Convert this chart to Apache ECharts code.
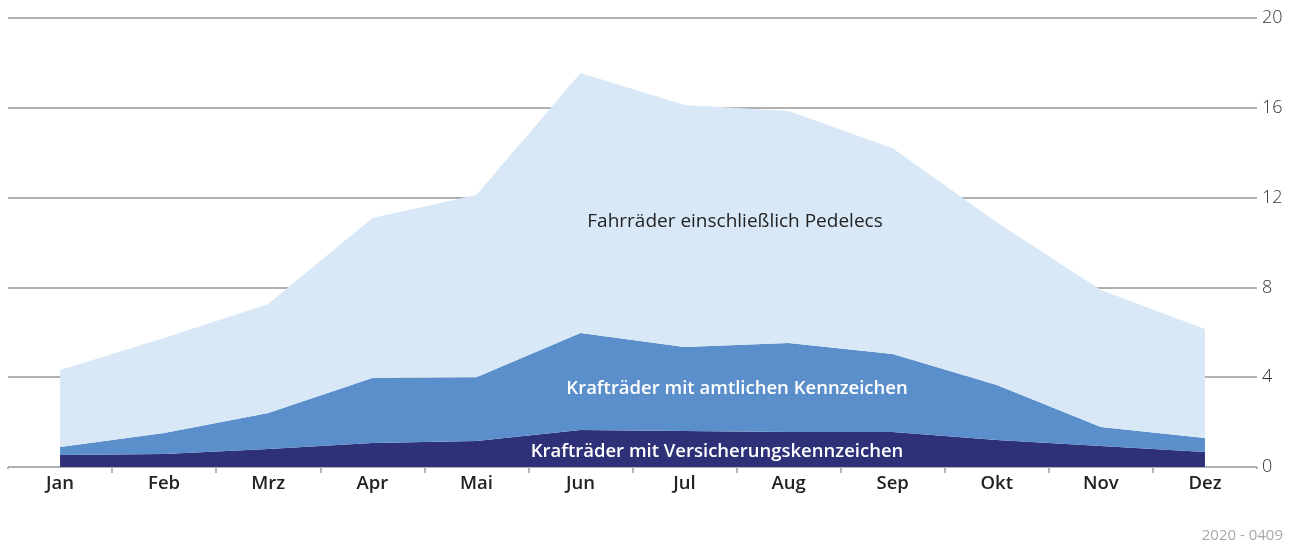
<!DOCTYPE html>
<html>
<head>
<meta charset="utf-8">
<script src="https://cdn.jsdelivr.net/npm/echarts@6/dist/echarts.min.js"></script>
<style>
  html, body { margin: 0; padding: 0; background: #fff; }
  #chart { width: 1296px; height: 545px; }
</style>
</head>
<body>
<div id="chart"></div>
<script>
// Monate
const months = ['Jan', 'Feb', 'Mrz', 'Apr', 'Mai', 'Jun', 'Jul', 'Aug', 'Sep', 'Okt', 'Nov', 'Dez']
// Werte je Schicht (gestapelt)
const versicherung = [0.53, 0.58, 0.8, 1.07, 1.16, 1.65, 1.6, 1.56, 1.56, 1.2, 0.94, 0.67]
const amtlich = [0.36, 0.93, 1.6, 2.89, 2.84, 4.32, 3.75, 3.96, 3.47, 2.45, 0.84, 0.62]
const fahrraeder = [3.43, 4.24, 4.86, 7.13, 8.12, 11.58, 10.77, 10.34, 9.17, 7.25, 6.1, 4.86]
const yTicks = [0, 4, 8, 12, 16, 20]

const font = '"Open Sans", "Noto Sans", sans-serif'
const chart = echarts.init(document.getElementById('chart'))

function layer(name, data, color) {
  return {
    name,
    type: 'line',
    stack: 'total',
    data,
    symbol: 'none',
    lineStyle: { width: 0 },
    areaStyle: { color, opacity: 1 },
    itemStyle: { color },
    silent: true
  }
}

function label(text, x, y, fill, weight, size, align) {
  return {
    type: 'text', x, y, z: 100,
    style: {
      text, fill,
      font: weight + ' ' + size + 'px ' + font,
      align: align || 'center', verticalAlign: 'middle',
      textAlign: align || 'center', textVerticalAlign: 'middle'
    }
  }
}

chart.setOption({
  animation: false,
  grid: { left: 8, right: 39, top: 18, bottom: 78 },
  xAxis: {
    type: 'category',
    data: months,
    boundaryGap: true,
    axisLine: { show: false },
    axisTick: { show: true, length: 6, lineStyle: { color: '#b4b4b4', width: 2 } },
    axisLabel: { color: '#222', fontFamily: font, fontWeight: 600, fontSize: 18.5, margin: 7 }
  },
  yAxis: {
    type: 'value',
    position: 'right',
    min: yTicks[0],
    max: yTicks[yTicks.length - 1],
    interval: 4,
    axisLine: { show: false },
    axisTick: { show: false },
    splitLine: { lineStyle: { color: '#b0b0b0', width: 2 } },
    axisLabel: { color: '#333', fontFamily: font, fontWeight: 300, fontSize: 18, margin: 5 }
  },
  series: [
    layer('Krafträder mit Versicherungskennzeichen', versicherung, '#2e3177'),
    layer('Krafträder mit amtlichen Kennzeichen', amtlich, '#5b8fcb'),
    layer('Fahrräder einschließlich Pedelecs', fahrraeder, '#d9e8f6')
  ],
  graphic: [
    label('Fahrräder einschließlich Pedelecs', 735, 222, '#222', 'normal', 19),
    label('Krafträder mit amtlichen Kennzeichen', 737, 389, '#fff', 600, 18.5),
    label('Krafträder mit Versicherungskennzeichen', 717, 452, '#fff', 600, 18.5),
    label('2020 - 0409', 1283, 536, '#a8a8a8', 'normal', 15, 'right'),
    // Randstriche der Kategorieachse abdecken
    { type: 'rect', z: 100, shape: { x: 4, y: 469, width: 8, height: 8 }, style: { fill: '#fff' } },
    { type: 'rect', z: 100, shape: { x: 1253, y: 469, width: 8, height: 8 }, style: { fill: '#fff' } }
  ]
})
</script>
</body>
</html>
